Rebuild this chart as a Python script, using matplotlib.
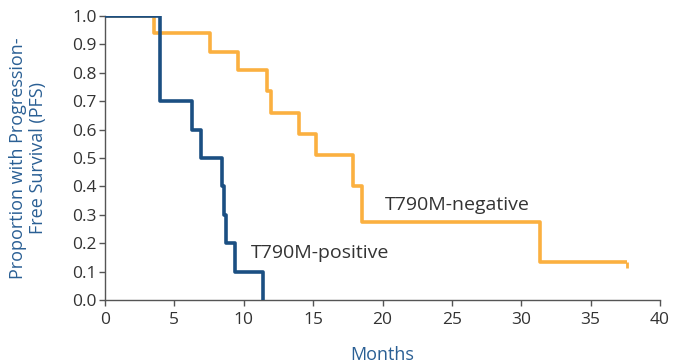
import matplotlib
matplotlib.use("Agg")
import matplotlib.pyplot as plt

plt.rcParams['font.family'] = ['Open Sans', 'DejaVu Sans']

# T790M-positive (blue)
pos_t = [0, 4.0, 6.3, 6.9, 8.4, 8.6, 8.75, 9.4, 11.4]
pos_s = [1.0, 0.70, 0.60, 0.50, 0.40, 0.30, 0.20, 0.10, 0.0]

# T790M-negative (orange)
neg_t = [0, 3.5, 7.6, 9.6, 11.65, 11.95, 14.0, 15.2, 17.85, 18.55, 31.35, 37.6]
neg_s = [1.0, 0.94, 0.875, 0.81, 0.735, 0.66, 0.585, 0.51, 0.40, 0.275, 0.135, 0.135]
neg_censor_t = [37.6]
neg_censor_s = [0.135]

xticks = [0, 5, 10, 15, 20, 25, 30, 35, 40]
yticks = [0.0, 0.1, 0.2, 0.3, 0.4, 0.5, 0.6, 0.7, 0.8, 0.9, 1.0]

blue = '#1b4f82'
orange = '#fbb040'
text_col = '#333333'
label_col = '#2a5f94'

fig = plt.figure(figsize=(6.77, 3.64), dpi=100)
ax = fig.add_axes([0.155, 0.176, 0.82, 0.78])

ax.step(neg_t, neg_s, where='post', color=orange, lw=2.6, solid_capstyle='butt', zorder=2)
ax.step(pos_t, pos_s, where='post', color=blue, lw=2.6, solid_capstyle='butt', zorder=3)
ax.plot(neg_censor_t, neg_censor_s, marker=3, color=orange, ms=4, mew=2.0, zorder=2)

ax.set_xlim(0, 40)
ax.set_ylim(0, 1.0)
ax.set_xticks(xticks)
ax.set_yticks(yticks)
ax.set_yticklabels([f"{v:.1f}" for v in yticks])
ax.tick_params(colors='#555555', labelcolor=text_col, labelsize=12.5, length=4, width=1, pad=2)
ax.tick_params(axis='x', pad=5)

for s in ['top', 'right']:
    ax.spines[s].set_visible(False)
for s in ['left', 'bottom']:
    ax.spines[s].set_color('#555555')
    ax.spines[s].set_linewidth(1.0)

ax.set_xlabel('Months', color=label_col, fontsize=13, labelpad=13)
ax.set_ylabel('Proportion with Progression-\nFree Survival (PFS)', color=label_col, fontsize=13,
              labelpad=18, linespacing=1.15)

ax.text(25.4, 0.335, 'T790M-negative', color=text_col, fontsize=14, ha='center', va='center')
ax.text(15.5, 0.165, 'T790M-positive', color=text_col, fontsize=14, ha='center', va='center')

fig.savefig('out.png', dpi=100)
